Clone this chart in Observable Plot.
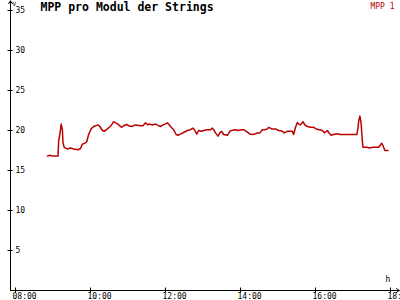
<!DOCTYPE html>
<html><head><meta charset="utf-8">
<script src="https://cdn.jsdelivr.net/npm/d3@7"></script>
<script src="https://cdn.jsdelivr.net/npm/@observablehq/plot@0.6"></script>
<style>body{margin:0;background:#fff}</style>
</head><body><div id="chart"></div>
<script>
const title = "MPP pro Modul der Strings";
const seriesName = "MPP 1";
const yUnit = "V";
const xUnit = "h";
const times = ["08:51","08:55","08:59","09:08","09:09","09:12","09:13","09:15","09:16","09:18","09:23","09:28","09:33","09:41","09:44","09:47","09:51","09:54","09:57","10:01","10:05","10:12","10:15","10:19","10:22","10:27","10:30","10:33","10:37","10:42","10:45","10:50","10:53","10:58","11:01","11:06","11:12","11:20","11:24","11:28","11:32","11:34","11:39","11:44","11:49","11:52","11:56","11:59","12:03","12:05","12:08","12:13","12:17","12:20","12:24","12:29","12:35","12:40","12:44","12:47","12:50","12:53","12:58","13:01","13:07","13:12","13:15","13:17","13:20","13:24","13:27","13:30","13:33","13:39","13:43","13:47","13:52","13:56","14:01","14:05","14:11","14:15","14:19","14:23","14:27","14:31","14:35","14:38","14:43","14:45","14:50","14:56","15:01","15:07","15:10","15:15","15:20","15:23","15:25","15:28","15:31","15:33","15:36","15:40","15:43","15:47","15:52","15:57","16:01","16:06","16:11","16:14","16:19","16:21","16:25","16:29","16:35","16:39","16:48","16:59","17:06","17:08","17:09","17:11","17:13","17:15","17:16","17:23","17:26","17:32","17:41","17:46","17:48","17:51","17:56"];
const values = [16.8,16.9,16.8,16.8,18.6,20.1,20.8,20.1,18.4,17.9,17.7,17.8,17.7,17.6,17.75,18.3,18.4,18.6,19.5,20.2,20.5,20.7,20.5,20.0,19.9,20.2,20.4,20.6,21.1,20.9,20.7,20.4,20.6,20.75,20.6,20.5,20.7,20.6,20.6,20.96,20.7,20.8,20.7,20.8,20.6,20.5,20.7,20.8,20.96,20.8,20.5,20.1,19.5,19.4,19.55,19.75,20.0,20.1,20.3,20.0,19.55,20.0,19.9,20.0,20.1,20.1,20.3,20.1,19.7,19.3,19.7,19.9,19.5,19.4,19.9,20.04,20.1,20.0,20.1,20.1,19.8,19.55,19.5,19.55,19.7,19.7,20.1,20.1,20.2,20.4,20.2,20.2,20.0,19.9,19.7,19.9,19.9,19.9,19.5,20.4,21.0,20.8,20.7,21.1,20.7,20.5,20.4,20.4,20.2,20.1,20.0,19.7,20.0,19.75,19.4,19.5,19.6,19.5,19.5,19.5,19.5,20.3,21.1,21.8,20.9,18.6,17.9,17.9,17.8,17.9,17.9,18.4,18.1,17.5,17.5];
const yTicks = [5,10,15,20,25,30,35];
const xTicks = ["08:00","10:00","12:00","14:00","16:00","18:00"];
const xStart = "07:52", xEnd = "18:14", yTop = 36.2;

const t = s => { const [h,m] = s.split(":").map(Number); return new Date(Date.UTC(2000,0,1,h,m)); };
const data = times.map((s,i) => ({time: t(s), value: values[i]}));
const font = "DejaVu Sans Mono";
const red = "#bb0000";

const chart = Plot.plot({
  width: 400, height: 300,
  marginLeft: 10, marginRight: 10, marginTop: 10, marginBottom: 10,
  style: {background: "#fff", fontFamily: font},
  x: {type: "utc", domain: [t(xStart), t("18:00")], axis: null},
  y: {domain: [0, 35], axis: null},
  marks: [
    Plot.arrow([0], {x1: () => t(xStart), x2: () => t(xEnd), y1: () => 0, y2: () => 0, headLength: 5, headAngle: 70, stroke: "#000", strokeWidth: 1}),
    Plot.arrow([0], {x1: () => t(xStart), x2: () => t(xStart), y1: () => 0, y2: () => yTop, headLength: 5, headAngle: 70, stroke: "#000", strokeWidth: 1}),
    Plot.axisY({ticks: yTicks, tickSize: 5, dx: 2.5, tickFormat: () => "", label: null}),
    Plot.axisX({ticks: xTicks.map(t), tickSize: 5, dy: -2.5, tickFormat: () => "", label: null}),
    Plot.text(yTicks, {x: () => t(xStart), y: d => d, text: d => String(d), dx: 5, textAnchor: "start", fontSize: 8, fontFamily: font, fill: "#000"}),
    Plot.text(xTicks, {x: d => t(d), y: () => 0, text: d => d, dx: -3, dy: 3, lineAnchor: "top", textAnchor: "start", fontSize: 8, fontFamily: font, fill: "#000"}),
    Plot.line(data, {x: "time", y: "value", stroke: red, strokeWidth: 1.5}),
    Plot.text([title], {frameAnchor: "top-left", dx: 30, dy: 0, lineAnchor: "bottom", textAnchor: "start", fontSize: 11.5, fontWeight: "bold", fontFamily: font, fill: "#000"}),
    Plot.text([seriesName], {frameAnchor: "top-right", dx: 4, dy: -2, lineAnchor: "bottom", textAnchor: "end", fontSize: 8, fontFamily: font, fill: red}),
    Plot.text([yUnit], {frameAnchor: "top-left", dx: 2, dy: -5, lineAnchor: "bottom", textAnchor: "start", fontSize: 6, fontFamily: font, fill: "#000"}),
    Plot.text([xUnit], {frameAnchor: "bottom-right", dx: -5, dy: -9, lineAnchor: "bottom", textAnchor: "start", fontSize: 8, fontFamily: font, fill: "#000"})
  ]
});
document.getElementById("chart").appendChild(chart);
</script>
</body></html>
